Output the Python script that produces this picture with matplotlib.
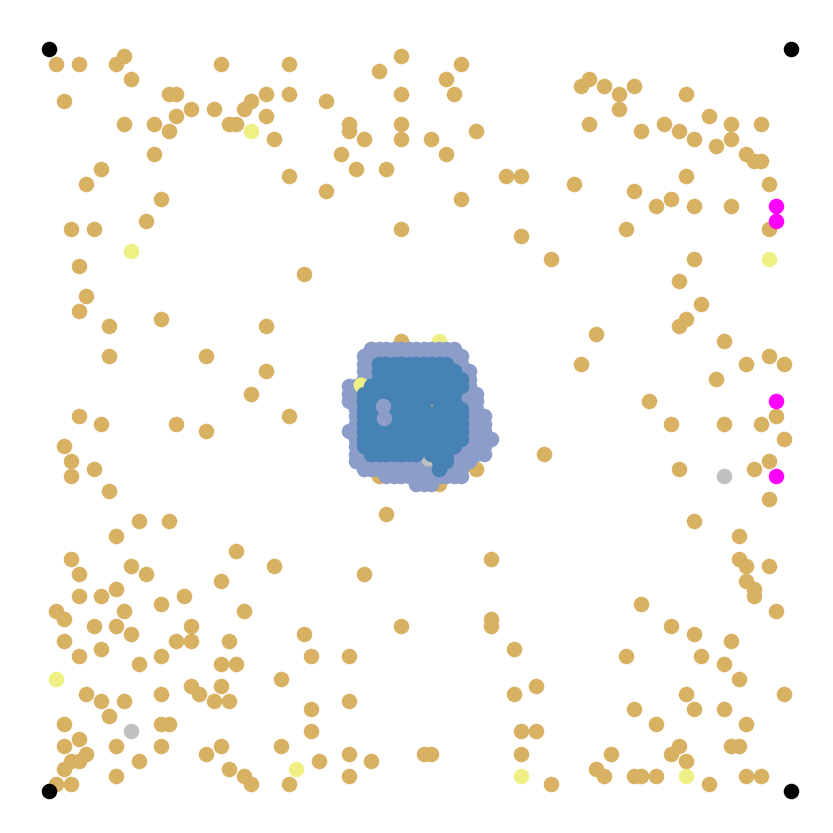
import matplotlib
matplotlib.use("Agg")
import matplotlib.pyplot as plt

# grid positions (column, row), row 0 at the top
tan_x = [1, 4, 9, 10, 11, 23, 32, 2, 16, 17, 19, 17, 14, 10, 16, 22, 24, 25, 26, 27, 29, 29, 30, 32, 32, 14, 7, 5, 15, 13, 3, 6, 4, 5,
         47, 44, 55, 53, 54, 47, 37, 40, 40, 42, 47, 47, 51, 53, 57, 39, 41, 45, 37, 55, 61, 63, 47, 63, 67, 34,
         72, 71, 74, 76, 78, 76, 85, 72, 79, 82, 84, 86, 88, 91, 91, 95, 89, 93, 94, 95, 96, 85, 70, 78, 83, 81, 86, 91, 96, 77, 86, 84,
         4, 8, 15, 29, 8, 21, 29, 27, 4, 7, 17, 21, 32, 2, 3, 3, 6, 8, 12, 16, 9, 3, 25,
         87, 85, 84, 73, 71, 90, 96, 98, 93, 89, 80, 97, 83, 90, 95, 98, 66, 84, 94, 96, 96, 86, 92, 92,
         43, 47, 44, 52, 57, 45,
         4, 11, 13, 30, 23, 4, 7, 9, 15, 18, 26, 1, 2, 10, 6, 9, 11, 19, 17, 19, 24, 34, 2, 7, 4, 12, 15, 23, 25, 31,
         5, 7, 10, 15, 19, 20, 23, 22, 24, 8, 2, 15, 16, 4, 2, 9, 15, 23, 31, 5, 3, 4, 2, 21, 12, 24, 26, 27, 1, 3, 9, 32,
         59, 42, 47, 59, 59, 62, 35, 40, 40, 35, 35, 62, 65, 63, 65, 63, 67, 50, 51, 40, 43, 36, 40,
         93, 96, 93, 94, 94, 97, 79, 83, 86, 91, 77, 87, 90, 92, 85, 98, 78, 86, 90, 81, 93, 84, 83, 85, 91, 92, 75, 73, 74, 78, 79, 81, 88, 93, 95]
tan_y = [2, 2, 2, 1, 4, 2, 2, 7, 6, 6, 8, 9, 10, 10, 11, 8, 10, 10, 8, 7, 6, 9, 12, 6, 17, 14, 16, 18, 20, 23, 24, 24, 29, 33,
         1, 3, 2, 4, 6, 6, 7, 10, 11, 12, 10, 12, 12, 14, 11, 14, 16, 16, 19, 20, 17, 17, 24, 25, 28, 30,
         4, 5, 5, 6, 5, 8, 6, 10, 11, 10, 11, 12, 9, 10, 12, 10, 13, 14, 15, 15, 18, 17, 18, 19, 20, 21, 21, 21, 24, 24, 28, 31,
         35, 37, 36, 37, 41, 41, 43, 46, 49, 50, 50, 51, 49, 53, 55, 57, 56, 59, 63, 63, 65, 68, 67,
         34, 36, 37, 38, 42, 39, 41, 42, 42, 44, 47, 49, 50, 50, 50, 52, 54, 56, 56, 55, 60, 63, 65, 68,
         40, 39, 57, 58, 56, 62,
         70, 69, 70, 69, 71, 73, 73, 72, 74, 73, 75, 75, 76, 75, 77, 77, 78, 77, 79, 79, 79, 78, 79, 80, 81, 82, 81, 82, 82, 84,
         86, 87, 87, 86, 85, 86, 85, 87, 87, 89, 90, 90, 90, 92, 93, 93, 93, 93, 93, 94, 95, 95, 96, 94, 95, 96, 97, 98, 98, 98, 97, 98,
         68, 70, 77, 76, 77, 80, 81, 81, 87, 88, 91, 86, 85, 91, 91, 94, 98, 94, 94, 94, 95, 95, 97,
         69, 69, 71, 72, 73, 75, 74, 77, 78, 79, 81, 81, 82, 84, 86, 86, 88, 88, 88, 90, 90, 93, 94, 95, 93, 93, 94, 96, 97, 97, 97, 97, 98, 97, 97]

yellow_x = [27, 11, 96, 52, 1, 33, 63, 85]
yellow_y = [11, 27, 28, 39, 84, 96, 97, 97]
gray_x = [90, 11]
gray_y = [57, 91]
magenta_x = [97, 97, 97, 97]
magenta_y = [21, 23, 47, 57]
corner_x = [0, 99, 0, 99]
corner_y = [0, 0, 99, 99]

# points hidden inside the central blob
inner_x = [41.7, 45.6, 51.3, 50.7]
inner_y = [44.9, 45.8, 47.8, 54.7]
inner_c = ["#EEF084", "#EEF084", "#D8B162", "#C0C0C0"]

# central blob: one row per entry, first and last column
peri_row = [40, 41, 42, 43, 44, 45, 46, 47, 48, 49, 50, 51, 52, 53, 54, 55, 56, 57, 58]
peri_from = [43, 42, 42, 42, 42, 40, 40, 40, 41, 41, 41, 40, 41, 41, 41, 41, 42, 45, 49]
peri_to = [54, 55, 55, 56, 56, 56, 57, 57, 57, 58, 58, 58, 59, 58, 58, 56, 55, 55, 51]
blue_row = [42, 43, 44, 45, 46, 47, 48, 49, 50, 51, 52, 53, 54, 55, 56]
blue_from = [44, 44, 44, 43, 42, 42, 42, 42, 42, 42, 42, 42, 43, 52, 52]
blue_to = [53, 54, 55, 55, 54, 54, 55, 55, 55, 55, 55, 54, 53, 53, 52]
# periwinkle dots lying on top of the blue
peri_top_x = [44.6, 44.7]
peri_top_y = [47.6, 49.2]

peri_x, peri_y = [], []
for r, a, b in zip(peri_row, peri_from, peri_to):
    for c in range(a, b + 1):
        peri_x.append(c)
        peri_y.append(r)

skip = set()
for x, y in zip(inner_x, inner_y):
    skip.add((round(x), round(y)))
    skip.add((int(x), int(y)))
blue_x, blue_y = [], []
for r, a, b in zip(blue_row, blue_from, blue_to):
    for c in range(a, b + 1):
        if (c, r) in skip:
            continue
        blue_x.append(c)
        blue_y.append(r)

fig = plt.figure(figsize=(8.33, 8.33), dpi=100)
ax = fig.add_axes([0, 0, 1, 1])
s = 125
ax.scatter(tan_x, tan_y, s=s, c="#D8B162", linewidths=0, zorder=2)
ax.scatter(yellow_x, yellow_y, s=s, c="#EEF084", linewidths=0, zorder=2)
ax.scatter(gray_x, gray_y, s=s, c="#C0C0C0", linewidths=0, zorder=2)
ax.scatter(magenta_x, magenta_y, s=s, c="#FF00FF", linewidths=0, zorder=2)
ax.scatter(corner_x, corner_y, s=s, c="black", linewidths=0, zorder=2)
ax.scatter(peri_x, peri_y, s=s, c="#8B9DC8", linewidths=0, zorder=3)
ax.scatter(inner_x, inner_y, s=s, c=inner_c, linewidths=0, zorder=4)
ax.scatter(blue_x, blue_y, s=s, c="#4682B4", linewidths=0, zorder=5)
ax.scatter(peri_top_x, peri_top_y, s=s, c="#8B9DC8", linewidths=0, zorder=6)

ax.set_xlim(-6.47, 104.6)
ax.set_ylim(104.6, -6.47)
ax.axis("off")
fig.savefig("out.png", dpi=100)
